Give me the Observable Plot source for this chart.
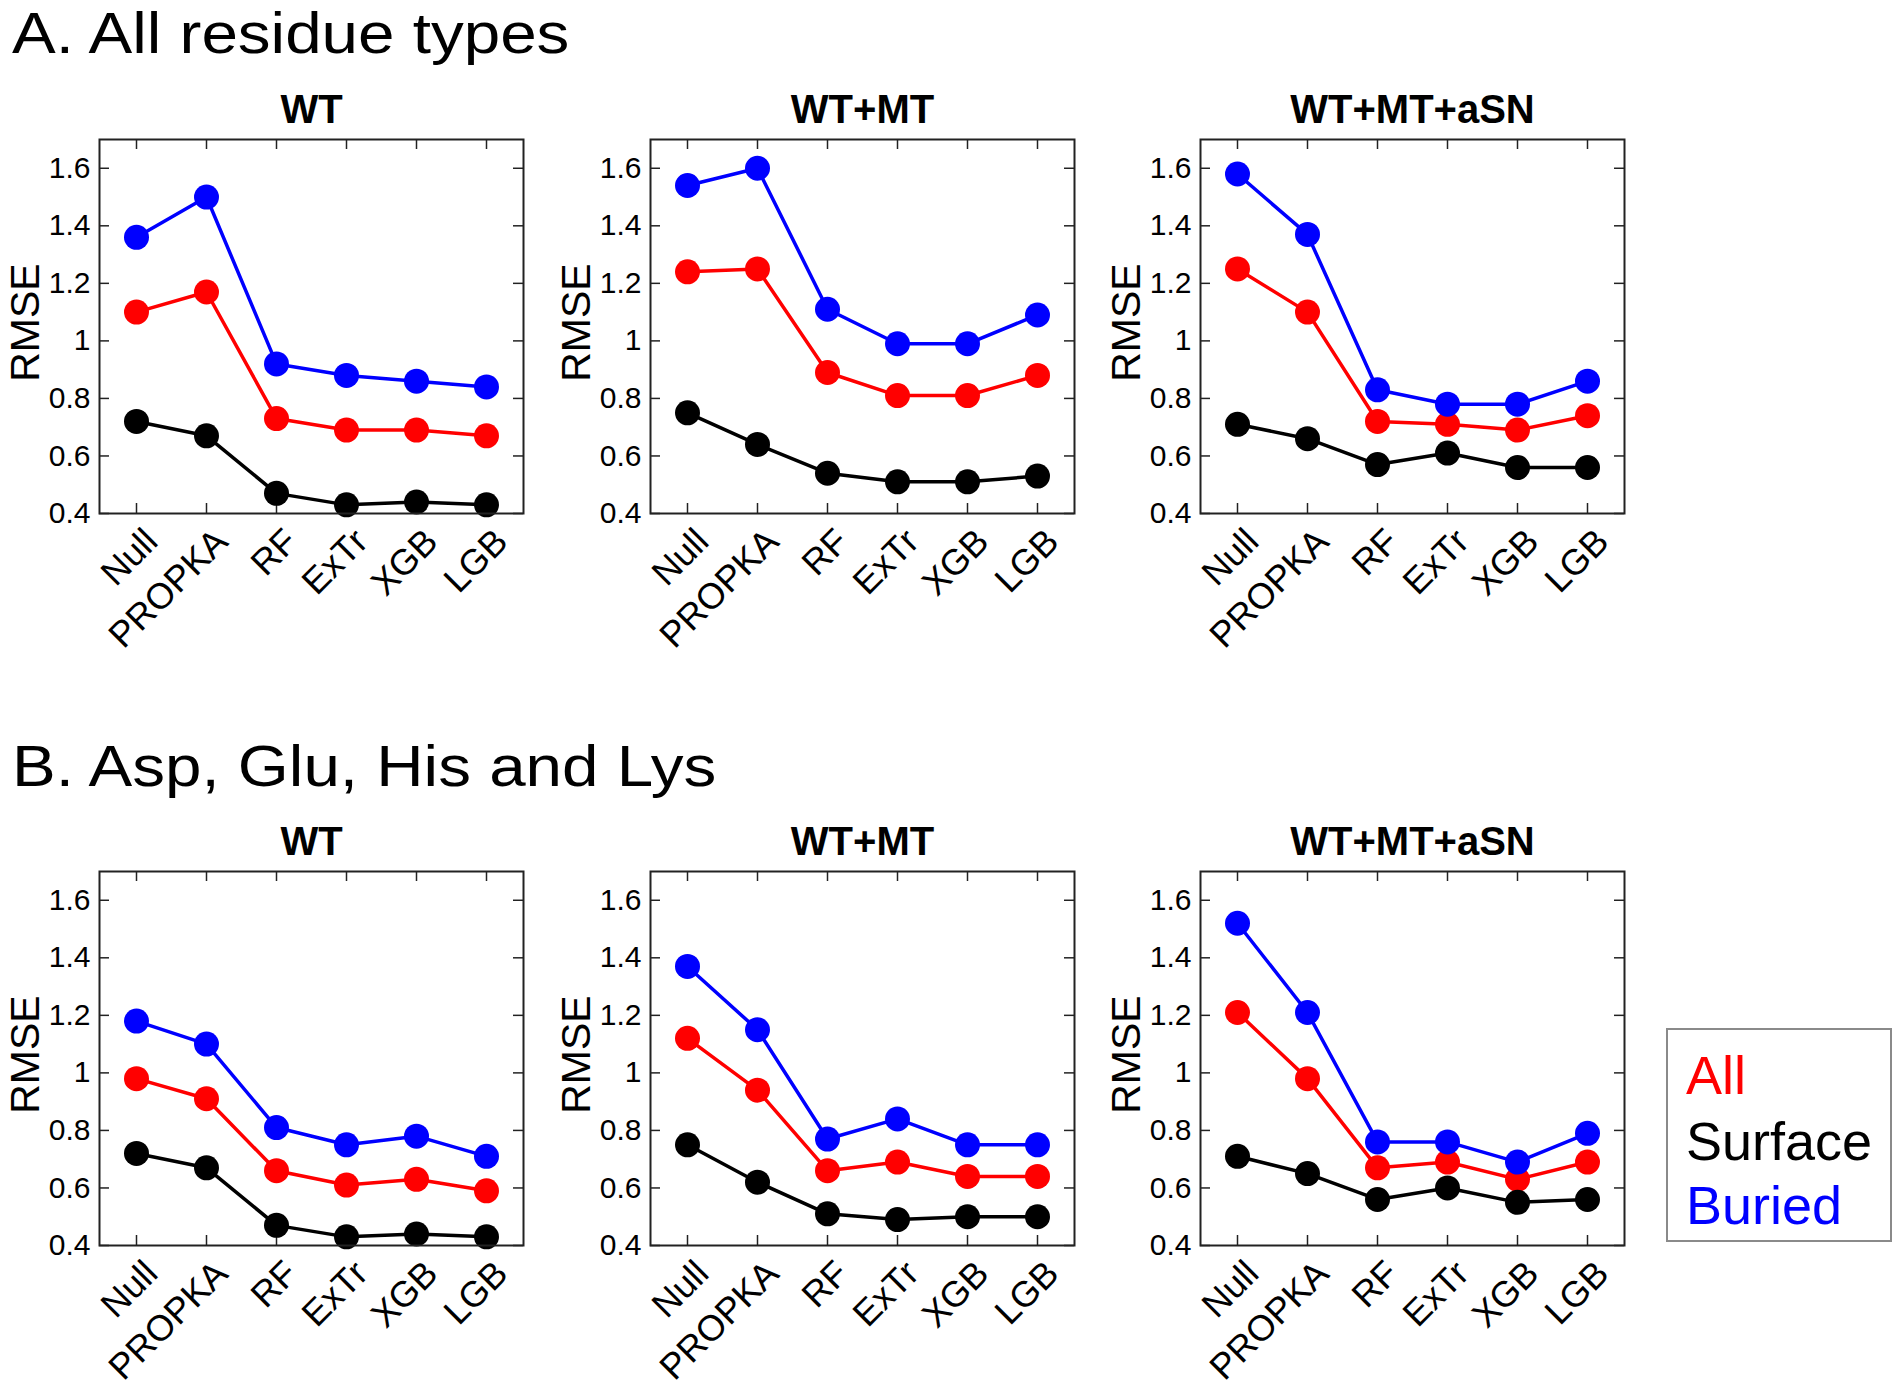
<!DOCTYPE html>
<html>
<head>
<meta charset="utf-8">
<script src="https://cdn.jsdelivr.net/npm/d3@7"></script>
<script src="https://cdn.jsdelivr.net/npm/@observablehq/plot@0.6"></script>
<style>
  html, body { margin: 0; padding: 0; background: #fff; }
  #root { position: relative; width: 1897px; height: 1391px; font-family: "Liberation Sans", Arial, Helvetica, sans-serif; overflow: hidden; }
  .sectionTitle { position: absolute; left: 12px; font-size: 58px; color: #000; white-space: nowrap; line-height: 1; transform: scaleX(1.13); transform-origin: left top; }
  .panel { position: absolute; }
  #legend { position: absolute; left: 1666px; top: 1028px; width: 226px; height: 214px; border: 2px solid #8a8a8a; box-sizing: border-box; }
  #legend div { position: absolute; left: 18px; font-size: 54px; line-height: 1; white-space: nowrap; }
</style>
</head>
<body>
<div id="root"></div>
<script>
// ---------------- data ----------------
const methods = ["Null", "PROPKA", "RF", "ExTr", "XGB", "LGB"];
const datasets = ["WT", "WT+MT", "WT+MT+aSN"];
const seriesNames = ["All", "Surface", "Buried"];
const seriesColors = ["#ff0000", "#000000", "#0000ff"];
const yTicks = [0.4, 0.6, 0.8, 1.0, 1.2, 1.4, 1.6];
const sectionTitles = ["A. All residue types", "B. Asp, Glu, His and Lys"];

// A. All residue types  (rows: WT, WT+MT, WT+MT+aSN)
const A_all     = [[1.10, 1.17, 0.73, 0.69, 0.69, 0.67],
                   [1.24, 1.25, 0.89, 0.81, 0.81, 0.88],
                   [1.25, 1.10, 0.72, 0.71, 0.69, 0.74]];
const A_surface = [[0.72, 0.67, 0.47, 0.43, 0.44, 0.43],
                   [0.75, 0.64, 0.54, 0.51, 0.51, 0.53],
                   [0.71, 0.66, 0.57, 0.61, 0.56, 0.56]];
const A_buried  = [[1.36, 1.50, 0.92, 0.88, 0.86, 0.84],
                   [1.54, 1.60, 1.11, 0.99, 0.99, 1.09],
                   [1.58, 1.37, 0.83, 0.78, 0.78, 0.86]];
// B. Asp, Glu, His and Lys
const B_all     = [[0.98, 0.91, 0.66, 0.61, 0.63, 0.59],
                   [1.12, 0.94, 0.66, 0.69, 0.64, 0.64],
                   [1.21, 0.98, 0.67, 0.69, 0.63, 0.69]];
const B_surface = [[0.72, 0.67, 0.47, 0.43, 0.44, 0.43],
                   [0.75, 0.62, 0.51, 0.49, 0.50, 0.50],
                   [0.71, 0.65, 0.56, 0.60, 0.55, 0.56]];
const B_buried  = [[1.18, 1.10, 0.81, 0.75, 0.78, 0.71],
                   [1.37, 1.15, 0.77, 0.84, 0.75, 0.75],
                   [1.52, 1.21, 0.76, 0.76, 0.69, 0.79]];

const sections = [[A_all, A_surface, A_buried], [B_all, B_surface, B_buried]];

// ---------------- layout ----------------
const FW = 424, FH = 374;            // frame size
const ML = 99, MR = 10, MT = 60, MB = 140;
const frameLefts = [99, 650, 1200];
const frameTops = [139, 871];
const titleTops = [4, 737];

const root = document.getElementById("root");

sections.forEach((sec, si) => {
  const t = document.createElement("div");
  t.className = "sectionTitle";
  t.style.top = titleTops[si] + "px";
  t.textContent = sectionTitles[si];
  root.appendChild(t);

  datasets.forEach((ds, di) => {
    const marks = [];
    // inward ticks on all four sides
    marks.push(Plot.ruleY(yTicks, {y: d => d, insetRight: FW - 10, stroke: "#222", strokeWidth: 1.5}));
    marks.push(Plot.ruleY(yTicks, {y: d => d, insetLeft: FW - 10, stroke: "#222", strokeWidth: 1.5}));
    marks.push(Plot.ruleX(methods, {x: d => d, insetTop: FH - 10, stroke: "#222", strokeWidth: 1.5}));
    marks.push(Plot.ruleX(methods, {x: d => d, insetBottom: FH - 10, stroke: "#222", strokeWidth: 1.5}));

    seriesNames.forEach((sn, k) => {
      const vals = sec[k][di];
      const rows = methods.map((m, i) => ({method: m, v: vals[i]}));
      marks.push(Plot.line(rows, {x: "method", y: "v", stroke: seriesColors[k], strokeWidth: 3.5}));
      marks.push(Plot.dot(rows, {x: "method", y: "v", fill: seriesColors[k], r: 12.5}));
    });

    marks.push(Plot.frame({stroke: "#222", strokeWidth: 2}));
    marks.push(Plot.axisY(yTicks, {anchor: "left", tickSize: 0, tickPadding: 9, fontSize: 30, tickFormat: d => String(d), label: null}));
    marks.push(Plot.axisX({anchor: "bottom", tickSize: 0, tickPadding: 22, dx: 15, tickRotate: -45, fontSize: 36, label: null}));
    marks.push(Plot.text(["RMSE"], {frameAnchor: "left", textAnchor: "middle", dx: -74, dy: -4, rotate: -90, fontSize: 41, fill: "#000"}));
    marks.push(Plot.text([ds], {frameAnchor: "top", dy: -17, lineAnchor: "bottom", fontSize: 40, fontWeight: "bold", fill: "#000"}));

    const chart = Plot.plot({
      width: ML + FW + MR,
      height: MT + FH + MB,
      marginLeft: ML, marginRight: MR, marginTop: MT, marginBottom: MB,
      style: {fontFamily: '"Liberation Sans", Arial, Helvetica, sans-serif', color: "#000", background: "transparent", overflow: "visible"},
      x: {type: "point", domain: methods, padding: 0.5, axis: null},
      y: {domain: [0.4, 1.7], axis: null},
      marks
    });
    chart.classList.add("panel");
    chart.style.left = (frameLefts[di] - ML) + "px";
    chart.style.top = (frameTops[si] - MT) + "px";
    root.appendChild(chart);
  });
});

// legend
const legend = document.createElement("div");
legend.id = "legend";
const legendTops = [18, 84, 148];
seriesNames.forEach((sn, k) => {
  const d = document.createElement("div");
  d.style.top = legendTops[k] + "px";
  d.style.color = seriesColors[k];
  d.textContent = sn;
  legend.appendChild(d);
});
root.appendChild(legend);
</script>
</body>
</html>
